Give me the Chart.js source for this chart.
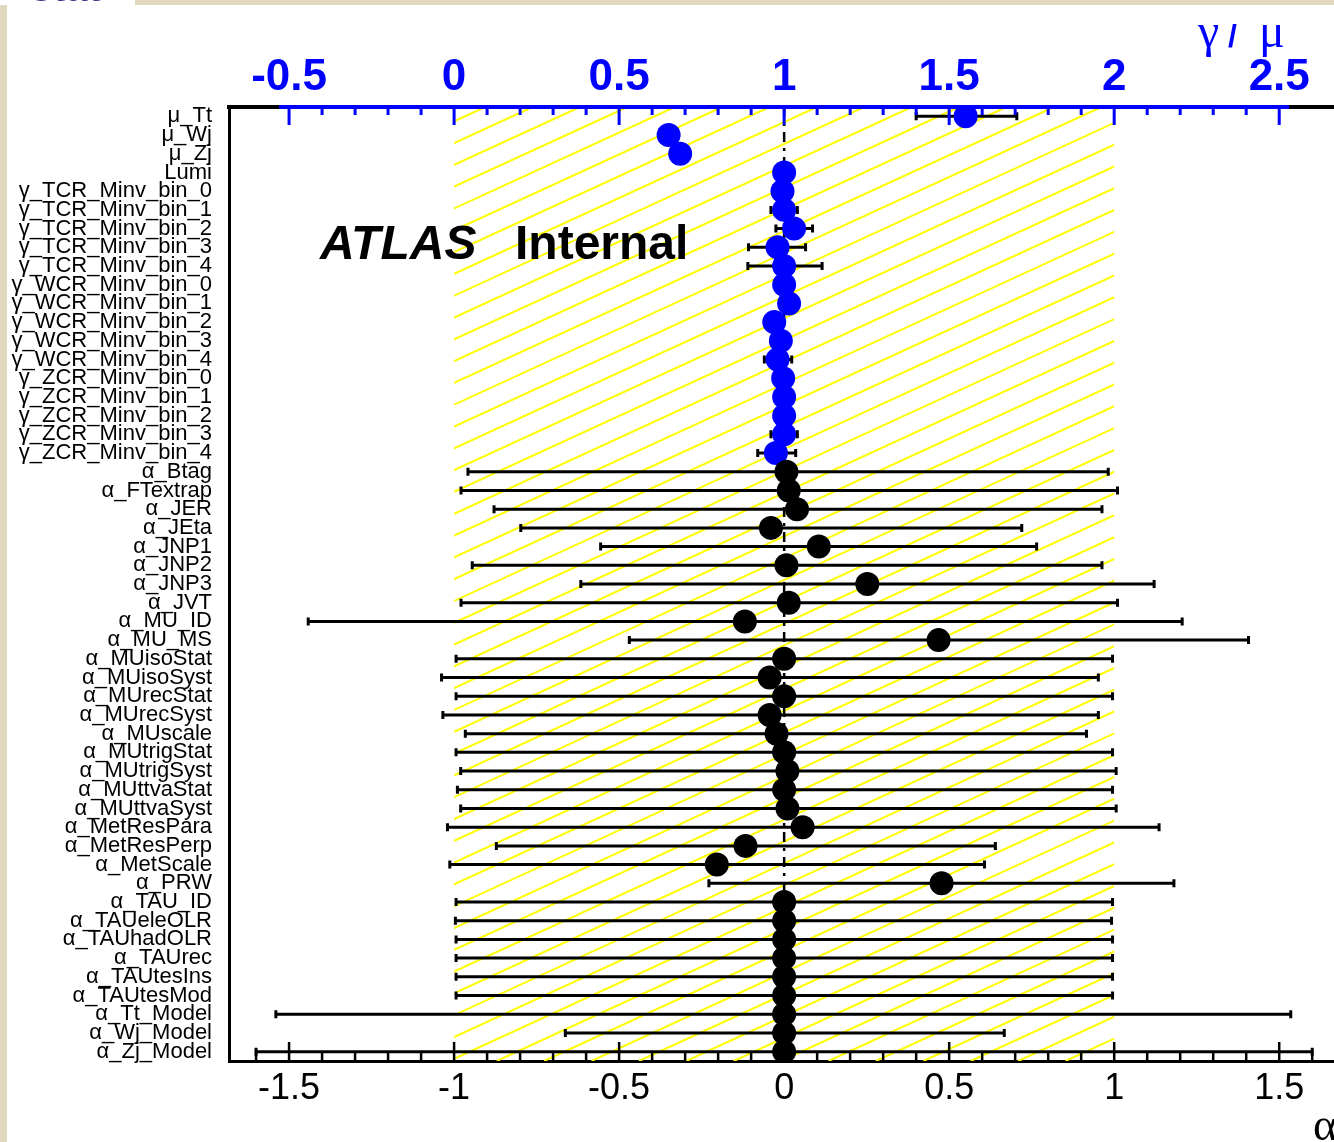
<!DOCTYPE html>
<html>
<head>
<meta charset="utf-8">
<script src="https://cdn.jsdelivr.net/npm/chart.js@4.4.0/dist/chart.umd.min.js"></script>
<style>
  html, body { margin: 0; padding: 0; background: #fff; overflow: hidden; width: 1334px; height: 1142px; }
  #wrap { position: absolute; left: 0; top: 0; width: 1346px; height: 1142px; }
  .note { position: absolute; white-space: nowrap; }
</style>
</head>
<body>
<div id="wrap"><canvas id="pulls" width="1346" height="1142"></canvas></div>

<div class="note" style="left:0;top:5px;width:7px;height:1137px;background:#e2d7bf"></div>
<div class="note" style="left:135px;top:0;width:1199px;height:5px;background:#e2d7bf"></div>
<div class="note" style="left:30px;top:-33px;font:bold 40px 'Liberation Sans';line-height:40px;color:#303088">stat</div>

<div class="note" style="left:320px;top:219px;font:italic bold 48px 'Liberation Sans';line-height:48px;color:#000">ATLAS</div>
<div class="note" style="left:515px;top:219px;font:bold 48px 'Liberation Sans';line-height:48px;color:#000">Internal</div>

<div class="note" style="left:1198px;top:7px;font:48px 'Liberation Serif';line-height:48px;color:#0000ff">γ</div>
<div class="note" style="left:1228px;top:20px;font:bold 32px 'Liberation Sans';line-height:32px;color:#0000ff">/</div>
<div class="note" style="left:1259px;top:7px;font:48px 'Liberation Serif';line-height:48px;color:#0000ff">μ</div>
<div class="note" style="left:1313px;top:1102px;font:46px 'Liberation Serif';line-height:46px;color:#000">α</div>

<script>
// rows, top to bottom
const rowLabels = [
  'μ_Tt', 'μ_Wj', 'μ_Zj', 'Lumi',
  'γ_TCR_Minv_bin_0', 'γ_TCR_Minv_bin_1', 'γ_TCR_Minv_bin_2', 'γ_TCR_Minv_bin_3', 'γ_TCR_Minv_bin_4',
  'γ_WCR_Minv_bin_0', 'γ_WCR_Minv_bin_1', 'γ_WCR_Minv_bin_2', 'γ_WCR_Minv_bin_3', 'γ_WCR_Minv_bin_4',
  'γ_ZCR_Minv_bin_0', 'γ_ZCR_Minv_bin_1', 'γ_ZCR_Minv_bin_2', 'γ_ZCR_Minv_bin_3', 'γ_ZCR_Minv_bin_4',
  'α_Btag', 'α_FTextrap', 'α_JER', 'α_JEta', 'α_JNP1', 'α_JNP2', 'α_JNP3', 'α_JVT',
  'α_MU_ID', 'α_MU_MS', 'α_MUisoStat', 'α_MUisoSyst', 'α_MUrecStat', 'α_MUrecSyst', 'α_MUscale',
  'α_MUtrigStat', 'α_MUtrigSyst', 'α_MUttvaStat', 'α_MUttvaSyst',
  'α_MetResPara', 'α_MetResPerp', 'α_MetScale', 'α_PRW',
  'α_TAU_ID', 'α_TAUeleOLR', 'α_TAUhadOLR', 'α_TAUrec', 'α_TAUtesIns', 'α_TAUtesMod',
  'α_Tt_Model', 'α_Wj_Model', 'α_Zj_Model'
];

// normalisations / gammas (top axis, blue)
const poiValues  = [1.55, 0.65, 0.685, 1.0, 0.995, 1.0, 1.03, 0.98, 1.0, 1.0, 1.015, 0.97, 0.99, 0.98, 0.997, 1.0, 1.0, 1.0, 0.975];
const poiErrDown = [0.15, 0.02, 0.02, 0.02, 0.02, 0.04, 0.055, 0.088, 0.11, 0.02, 0.02, 0.02, 0.02, 0.04, 0.02, 0.02, 0.02, 0.04, 0.055];
const poiErrUp   = [0.155, 0.02, 0.02, 0.02, 0.02, 0.04, 0.056, 0.085, 0.115, 0.02, 0.02, 0.02, 0.02, 0.043, 0.02, 0.02, 0.02, 0.04, 0.06];

// nuisance parameter pulls (bottom axis, black)
const alphaValues  = [0.007, 0.014, 0.039, -0.04, 0.105, 0.007, 0.252, 0.014, -0.119, 0.468,
  0, -0.044, 0, -0.044, -0.023, 0, 0.01, 0, 0.01, 0.056, -0.117, -0.204, 0.477,
  0, 0, 0, 0, 0, 0, 0, 0, 0];
const alphaErrDown = [0.965, 0.993, 0.918, 0.758, 0.661, 0.952, 0.868, 0.993, 1.323, 0.937,
  0.994, 0.994, 0.994, 0.99, 0.943, 0.994, 0.99, 0.99, 0.99, 1.076, 0.755, 0.809, 0.705,
  0.994, 0.996, 0.994, 0.994, 0.994, 0.994, 1.54, 0.663, 1.6];
const alphaErrUp   = [0.975, 0.996, 0.924, 0.76, 0.66, 0.956, 0.869, 0.996, 1.325, 0.939,
  0.995, 0.996, 0.995, 0.996, 0.939, 0.995, 0.996, 0.995, 0.996, 1.08, 0.757, 0.811, 0.704,
  0.995, 0.992, 0.995, 0.995, 0.995, 0.995, 1.535, 0.667, 1.6];

const alphaTicks = [-1.5, -1, -0.5, 0, 0.5, 1, 1.5];
const poiTicks = [-0.5, 0, 0.5, 1, 1.5, 2, 2.5];
const bandRange = [-1, 1];

const nPoi = poiValues.length;
const poiPoints = poiValues.map((v, i) => ({ x: v, y: i }));
const alphaPoints = alphaValues.map((v, i) => ({ x: v, y: nPoi + i }));

const BLUE = '#0000ff';

const framePlugin = {
  id: 'frame',
  beforeDatasetsDraw(chart) {
    const { ctx, chartArea: a } = chart;
    const x = chart.scales.x, x2 = chart.scales.x2, y = chart.scales.y;

    // yellow hatched +-1 band
    const xl = x.getPixelForValue(bandRange[0]);
    const xr = x.getPixelForValue(bandRange[1]);
    const h = a.bottom - a.top;
    const slope = 0.46, gap = 47.4;
    ctx.save();
    ctx.beginPath();
    ctx.rect(xl, a.top, xr - xl, h);
    ctx.clip();
    ctx.strokeStyle = '#ffff00';
    ctx.lineWidth = 2;
    ctx.beginPath();
    let start = xl + 31;
    while (start > xl) start -= gap;
    for (let xt = start; xt < xr + h / slope + gap; xt += gap) {
      ctx.moveTo(xt, a.top);
      ctx.lineTo(xt - h / slope, a.bottom);
    }
    ctx.stroke();
    ctx.restore();

    // dash-dot line at zero
    const z = x.getPixelForValue(0);
    ctx.save();
    ctx.strokeStyle = '#000';
    ctx.lineWidth = 2.5;
    ctx.setLineDash([10, 6, 3, 6]);
    ctx.beginPath();
    ctx.moveTo(z, a.top);
    ctx.lineTo(z, a.bottom);
    ctx.stroke();
    ctx.restore();

    // error bars
    ctx.save();
    ctx.strokeStyle = '#000';
    ctx.lineWidth = 3;
    ctx.beginPath();
    const bar = (scale, v, dn, up, row) => {
      const py = y.getPixelForValue(row);
      const p1 = scale.getPixelForValue(v - dn);
      const p2 = scale.getPixelForValue(v + up);
      ctx.moveTo(p1, py); ctx.lineTo(p2, py);
      ctx.moveTo(p1, py - 4); ctx.lineTo(p1, py + 4);
      ctx.moveTo(p2, py - 4); ctx.lineTo(p2, py + 4);
    };
    poiValues.forEach((v, i) => bar(x2, v, poiErrDown[i], poiErrUp[i], i));
    alphaValues.forEach((v, i) => bar(x, v, alphaErrDown[i], alphaErrUp[i], nPoi + i));
    ctx.stroke();
    ctx.restore();

    // inward tick marks
    ctx.save();
    ctx.strokeStyle = BLUE;
    ctx.lineWidth = 4;
    ctx.beginPath();
    ctx.moveTo(x2.getPixelForValue(-0.53), a.top);
    ctx.lineTo(x2.getPixelForValue(2.53), a.top);
    ctx.stroke();
    ctx.lineWidth = 3;
    ctx.beginPath();
    for (let k = -5; k <= 25; k++) {
      const px = x2.getPixelForValue(k / 10);
      ctx.moveTo(px, a.top);
      ctx.lineTo(px, a.top + (k % 5 === 0 ? 18 : 8));
    }
    ctx.stroke();
    ctx.strokeStyle = '#000';
    ctx.lineWidth = 2.5;
    ctx.beginPath();
    for (let k = -16; k <= 16; k++) {
      const px = x.getPixelForValue(k / 10);
      ctx.moveTo(px, a.bottom);
      ctx.lineTo(px, a.bottom - (k % 5 === 0 ? 19 : 10));
    }
    ctx.stroke();
    ctx.restore();
  }
};

new Chart(document.getElementById('pulls'), {
  type: 'scatter',
  data: {
    datasets: [
      {
        label: 'alpha',
        data: alphaPoints,
        xAxisID: 'x',
        yAxisID: 'y',
        pointRadius: 12,
        pointBorderWidth: 0,
        pointBackgroundColor: '#000',
        showLine: false
      },
      {
        label: 'poi',
        data: poiPoints,
        xAxisID: 'x2',
        yAxisID: 'y',
        pointRadius: 12,
        pointBorderWidth: 0,
        pointBackgroundColor: BLUE,
        showLine: false
      }
    ]
  },
  options: {
    responsive: false,
    animation: false,
    layout: { padding: 0 },
    plugins: { legend: { display: false }, tooltip: { enabled: false } },
    scales: {
      x: {
        type: 'linear',
        position: 'bottom',
        min: -1.682,
        max: 1.666,
        afterBuildTicks: s => { s.ticks = alphaTicks.map(v => ({ value: v })); },
        afterFit: s => { s.height = 81; },
        grid: { display: false, drawTicks: false },
        border: { display: true, color: '#000', width: 3 },
        ticks: {
          color: '#000',
          font: { family: 'Liberation Sans', size: 36 },
          padding: 6,
          autoSkip: false,
          maxRotation: 0,
          callback: v => String(v)
        }
      },
      x2: {
        type: 'linear',
        position: 'top',
        min: -0.682,
        max: 2.666,
        afterBuildTicks: s => { s.ticks = poiTicks.map(v => ({ value: v })); },
        afterFit: s => { s.height = 107; },
        grid: { display: false, drawTicks: false },
        border: { display: true, color: '#000', width: 4 },
        ticks: {
          color: BLUE,
          font: { family: 'Liberation Sans', size: 44, weight: 'bold' },
          padding: 3,
          autoSkip: false,
          maxRotation: 0,
          callback: v => String(v)
        }
      },
      y: {
        type: 'linear',
        reverse: true,
        min: -0.5,
        max: 50.5,
        afterBuildTicks: s => { s.ticks = rowLabels.map((l, i) => ({ value: i })); },
        afterFit: s => { s.width = 229; },
        grid: { display: false, drawTicks: false },
        border: { display: true, color: '#000', width: 3 },
        ticks: {
          color: '#000',
          font: { family: 'Liberation Sans', size: 22 },
          padding: 17,
          autoSkip: false,
          callback: v => rowLabels[v]
        }
      }
    }
  },
  plugins: [framePlugin]
});
</script>
</body>
</html>
